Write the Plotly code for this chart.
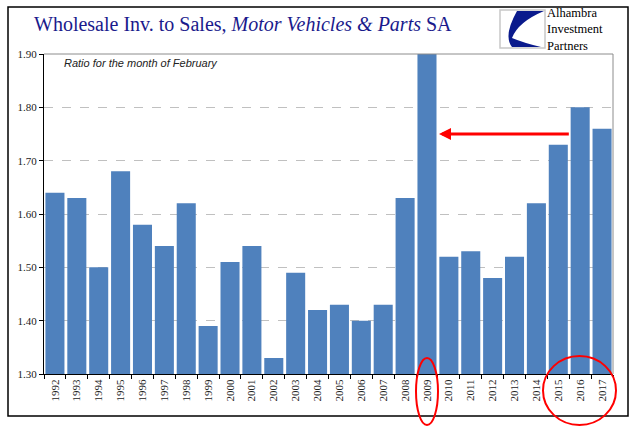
import plotly.graph_objects as go

years = list(range(1992, 2018))
ratios = [1.64, 1.63, 1.50, 1.68, 1.58, 1.54, 1.62, 1.39, 1.51, 1.54,
          1.33, 1.49, 1.42, 1.43, 1.40, 1.43, 1.63, 1.90, 1.52, 1.53,
          1.48, 1.52, 1.62, 1.73, 1.80, 1.76]
y_ticks = [1.30, 1.40, 1.50, 1.60, 1.70, 1.80, 1.90]

W, H = 641, 441
L, R, T, B = 44, 28, 54, 67
PW, PH = W - L - R, H - T - B

def px(x):
    return (x - L) / PW

def py(y):
    return (H - B - y) / PH

fig = go.Figure()
fig.add_trace(go.Bar(x=years, y=ratios, marker=dict(color="#4f81bd", line=dict(width=0)),
                     width=0.87, hoverinfo="x+y"))

fig.update_layout(
    width=W, height=H,
    margin=dict(l=L, r=R, t=T, b=B),
    paper_bgcolor="white", plot_bgcolor="white",
    showlegend=False,
    xaxis=dict(range=[1991.5, 2017.5], tickmode="array", tickvals=years,
               ticktext=[str(y) for y in years], tickangle=-90, ticks="",
               showgrid=False, showline=True, linecolor="#000", linewidth=1,
               tickfont=dict(family="Liberation Serif", size=11, color="#222"),
               minor=dict(tickmode="linear", tick0=1991.5, dtick=1, ticks="outside",
                          ticklen=4, tickcolor="#000", showgrid=False),
               zeroline=False),
    yaxis=dict(range=[1.30, 1.90], tickmode="array", tickvals=y_ticks,
               ticktext=[f"{v:.2f}" for v in y_ticks], ticks="outside", ticklen=4,
               tickcolor="#000", showline=True, linecolor="#000", linewidth=1,
               showgrid=True, gridcolor="#c0c0c0", griddash="dash", gridwidth=1,
               tickfont=dict(family="Liberation Serif", size=11, color="#222"),
               zeroline=False),
)

shapes = []
# plot area gray border (top/right)
shapes.append(dict(type="line", xref="paper", yref="paper", x0=0, x1=1, y0=1, y1=1,
                   line=dict(color="#8c8c8c", width=1)))
shapes.append(dict(type="line", xref="paper", yref="paper", x0=1, x1=1, y0=0, y1=1,
                   line=dict(color="#8c8c8c", width=1)))
# outer frame
shapes.append(dict(type="rect", xref="paper", yref="paper", x0=px(8), x1=px(628),
                   y0=py(416), y1=py(7), line=dict(color="#000", width=1.5), layer="below"))
# red ellipses
shapes.append(dict(type="circle", xref="paper", yref="paper", x0=px(416), x1=px(438),
                   y0=py(425), y1=py(358), line=dict(color="#ff0000", width=2)))
shapes.append(dict(type="circle", xref="paper", yref="paper", x0=px(543), x1=px(616),
                   y0=py(425), y1=py(356), line=dict(color="#ff0000", width=2)))
# logo box
shapes.append(dict(type="rect", xref="paper", yref="paper", x0=px(500), x1=px(545),
                   y0=py(48), y1=py(10), line=dict(color="#c8c8c8", width=1.5),
                   fillcolor="white"))
path = (f"M {px(517)},{py(11)} L {px(544)},{py(11)} "
        f"Q {px(518)},{py(22)} {px(512)},{py(38)} "
        f"Q {px(524)},{py(43)} {px(541)},{py(47)} "
        f"L {px(512)},{py(47)} Q {px(503)},{py(36)} {px(517)},{py(11)} Z")
shapes.append(dict(type="path", xref="paper", yref="paper", path=path,
                   fillcolor="#0a1a8c", line=dict(width=0)))
fig.update_layout(shapes=shapes)

fig.add_annotation(xref="paper", yref="paper", x=px(32), y=py(24), xanchor="left",
                   yanchor="middle", showarrow=False,
                   text="Wholesale Inv. to Sales, <i>Motor Vehicles &amp; Parts</i> SA",
                   font=dict(family="Liberation Serif", size=20, color="#1a1a8c"))
fig.add_annotation(xref="paper", yref="paper", x=px(546), y=py(29), xanchor="left",
                   yanchor="middle", showarrow=False, align="left", borderpad=0,
                   text="Alhambra<br>Investment<br>Partners",
                   font=dict(family="Liberation Serif", size=12.5, color="#000"))
fig.add_annotation(xref="paper", yref="paper", x=px(62), y=py(63), xanchor="left",
                   yanchor="middle", showarrow=False,
                   text="<i>Ratio for the month of February</i>",
                   font=dict(family="Liberation Sans", size=11, color="#222"))
fig.add_annotation(x=2009.55, y=1.75, ax=2015.55, ay=1.75, xref="x", yref="y",
                   axref="x", ayref="y", showarrow=True, arrowhead=2, arrowsize=0.8,
                   arrowwidth=3, arrowcolor="#ff0000", text="")

fig.write_html("out.html", config={"displayModeBar": False},
               post_script="document.body.style.margin='0px';")
